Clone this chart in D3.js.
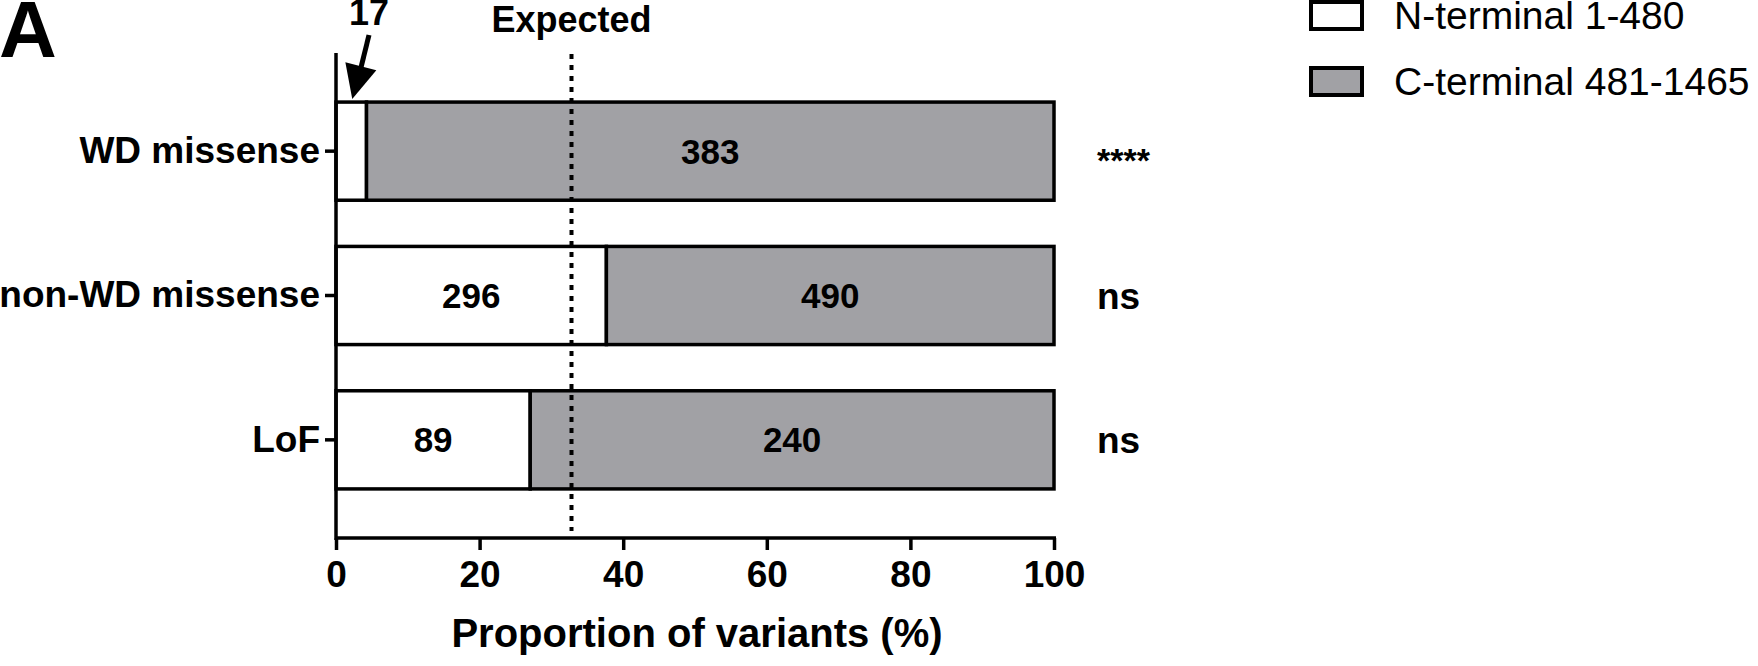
<!DOCTYPE html>
<html>
<head>
<meta charset="utf-8">
<script src="https://cdn.jsdelivr.net/npm/d3@7"></script>
<style>
  html, body { margin: 0; padding: 0; background: #fff; }
  svg { display: block; }
  text { font-family: "Liberation Sans", Arial, Helvetica, sans-serif; fill: #000; }
</style>
</head>
<body>
<svg id="chart" width="1758" height="666"></svg>
<script>
const categories = ["WD missense", "non-WD missense", "LoF"];
const nTerminal = [17, 296, 89];
const cTerminal = [383, 490, 240];
const significance = ["****", "ns", "ns"];
const xTicks = [0, 20, 40, 60, 80, 100];
const expectedPct = 32.8;
const legendLabels = ["N-terminal 1-480", "C-terminal 481-1465"];
const seriesColors = ["#ffffff", "#a1a1a5"];

const svg = d3.select("#chart");

const x = d3.scaleLinear().domain([0, 100]).range([336, 1054]);
const y = d3.scaleBand().domain(categories).range([53, 538])
  .paddingInner(0.32).paddingOuter(0.34);

const rows = categories.map((c, i) => {
  const tot = nTerminal[i] + cTerminal[i];
  const nPct = nTerminal[i] / tot * 100;
  return { cat: c, n: nTerminal[i], c: cTerminal[i], nPct, sig: significance[i] };
});

// Panel letter
svg.append("text").attr("x", -1).attr("y", 57)
  .attr("font-size", 80).attr("font-weight", "bold").text("A");

// Bars
const g = svg.append("g");
rows.forEach(r => {
  const y0 = y(r.cat), h = y.bandwidth();
  g.append("rect").attr("x", x(0)).attr("y", y0)
    .attr("width", x(r.nPct) - x(0)).attr("height", h)
    .attr("fill", seriesColors[0]).attr("stroke", "#000").attr("stroke-width", 3.5);
  g.append("rect").attr("x", x(r.nPct)).attr("y", y0)
    .attr("width", x(100) - x(r.nPct)).attr("height", h)
    .attr("fill", seriesColors[1]).attr("stroke", "#000").attr("stroke-width", 3.5);
  if (r.n > 50) {
    g.append("text").attr("x", (x(0) + x(r.nPct)) / 2).attr("y", y0 + h / 2)
      .attr("dy", "0.36em").attr("text-anchor", "middle")
      .attr("font-size", 35).attr("font-weight", "bold").text(r.n);
  }
  g.append("text").attr("x", (x(r.nPct) + x(100)) / 2).attr("y", y0 + h / 2)
    .attr("dy", "0.36em").attr("text-anchor", "middle")
    .attr("font-size", 35).attr("font-weight", "bold").text(r.c);
  // significance
  const isStar = r.sig.indexOf("*") >= 0;
  g.append("text").attr("x", 1097).attr("y", y0 + h / 2)
    .attr("dy", isStar ? "0.62em" : "0.36em")
    .attr("font-size", isStar ? 34 : 37).attr("font-weight", "bold").text(r.sig);
});

// Expected dotted line
svg.append("line").attr("x1", x(expectedPct)).attr("x2", x(expectedPct))
  .attr("y1", 54).attr("y2", 531)
  .attr("stroke", "#000").attr("stroke-width", 4).attr("stroke-dasharray", "5,6");
svg.append("text").attr("x", x(expectedPct)).attr("y", 32)
  .attr("text-anchor", "middle").attr("font-size", 36).attr("font-weight", "bold")
  .text("Expected");

// "17" annotation with arrow
const wd = rows[0];
const tipX = (x(0) + x(wd.nPct)) / 2 + 1, tipY = y(wd.cat) - 3;
svg.append("text").attr("x", 369).attr("y", 25)
  .attr("text-anchor", "middle").attr("font-size", 36).attr("font-weight", "bold")
  .text(wd.n);
const sx = 369, sy = 35;
const ang = Math.atan2(tipY - sy, tipX - sx);
const headLen = 34, headW = 16;
const bx = tipX - headLen * Math.cos(ang), by = tipY - headLen * Math.sin(ang);
svg.append("line").attr("x1", sx).attr("y1", sy).attr("x2", bx).attr("y2", by + 2)
  .attr("stroke", "#000").attr("stroke-width", 5);
svg.append("path").attr("d",
  `M${tipX},${tipY} L${bx + headW * Math.sin(ang)},${by - headW * Math.cos(ang)} L${bx - headW * Math.sin(ang)},${by + headW * Math.cos(ang)} Z`)
  .attr("fill", "#000");

// Axes
const xAxis = svg.append("g").attr("transform", `translate(0,538)`)
  .call(d3.axisBottom(x).tickValues(xTicks).tickSize(12).tickPadding(10).tickSizeOuter(0));
xAxis.select(".domain").attr("stroke-width", 3.5).attr("d", `M${x(0)},0H${x(100) + 2}`);
xAxis.selectAll(".tick line").attr("stroke-width", 3.5);
xAxis.selectAll(".tick text").attr("font-size", 37).attr("font-weight", "bold")
  .attr("font-family", "Liberation Sans, Arial, sans-serif").attr("dy", "0.74em");

const yAxis = svg.append("g").attr("transform", `translate(${x(0)},0)`)
  .call(d3.axisLeft(y).tickSize(11).tickPadding(5).tickSizeOuter(0));
yAxis.select(".domain").attr("stroke-width", 3.5).attr("d", `M0,53V540`);
yAxis.selectAll(".tick line").attr("stroke-width", 3.5);
yAxis.selectAll(".tick text").attr("font-size", 37).attr("font-weight", "bold")
  .attr("font-family", "Liberation Sans, Arial, sans-serif");

svg.append("text").attr("x", (x(0) + x(100)) / 2 + 2).attr("y", 647)
  .attr("text-anchor", "middle").attr("font-size", 40).attr("font-weight", "bold")
  .text("Proportion of variants (%)");

// Legend
const leg = svg.append("g");
legendLabels.forEach((lab, i) => {
  const yy = 2 + i * 66;
  leg.append("rect").attr("x", 1311).attr("y", yy).attr("width", 51).attr("height", 27)
    .attr("fill", seriesColors[i]).attr("stroke", "#000").attr("stroke-width", 4);
  leg.append("text").attr("x", 1394).attr("y", yy + 27)
    .attr("font-size", 39).text(lab);
});
</script>
</body>
</html>
